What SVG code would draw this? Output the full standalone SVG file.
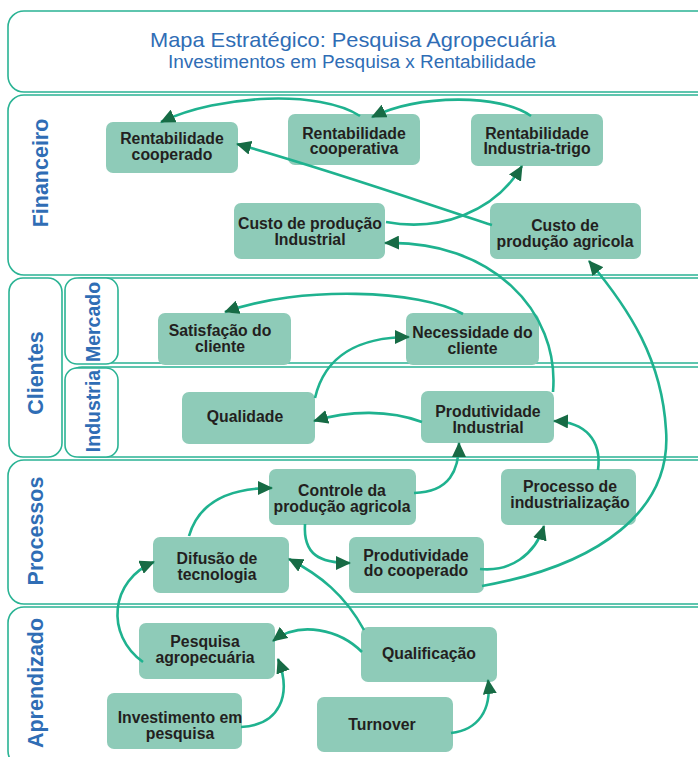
<svg xmlns="http://www.w3.org/2000/svg" width="698" height="757" viewBox="0 0 698 757">
<defs>
<marker id="ah" markerUnits="userSpaceOnUse" markerWidth="16" markerHeight="14" viewBox="0 0 16 14" refX="14" refY="7" orient="auto">
<path d="M0,0 L15,7 L0,14 Z" fill="#176b45"/>
</marker>
</defs>
<style>
.lane{fill:#fff;stroke:#2ab394;stroke-width:1.6}
.lbl{font-family:"Liberation Sans",Arial,sans-serif;font-weight:bold;fill:#2f6db5;text-anchor:middle}
.node rect{fill:#8ecbb8;stroke:none}
.node text{font-family:"Liberation Sans",Arial,sans-serif;font-weight:bold;font-size:15.8px;fill:#231f20;text-anchor:middle}
.edges path{fill:none;stroke:#1fb28f;stroke-width:2.6;marker-end:url(#ah)}
.title{font-family:"Liberation Sans",Arial,sans-serif;fill:#2f6db5;text-anchor:middle}
</style>
<g id="lanes">
<rect class="lane" x="8" y="11" width="720" height="81" rx="16"/>
<rect class="lane" x="8" y="95" width="720" height="180" rx="16"/>
<rect class="lane" x="68" y="278" width="660" height="85" rx="14"/>
<rect class="lane" x="68" y="367" width="660" height="90" rx="14"/>
<rect class="lane" x="9" y="278" width="53" height="179" rx="14"/>
<rect class="lane" x="65" y="278" width="53" height="86" rx="12"/>
<rect class="lane" x="65" y="368" width="53" height="89" rx="12"/>
<rect class="lane" x="8" y="460" width="720" height="144" rx="16"/>
<rect class="lane" x="8" y="607" width="720" height="160" rx="16"/>
<text class="title" x="353" y="47" font-size="21" textLength="406" lengthAdjust="spacingAndGlyphs">Mapa Estratégico: Pesquisa Agropecuária</text>
<text class="title" x="352" y="68" font-size="17.5" textLength="368" lengthAdjust="spacingAndGlyphs">Investimentos em Pesquisa x Rentabilidade</text>
<text class="lbl" font-size="21.5" transform="translate(48,173) rotate(-90)">Financeiro</text>
<text class="lbl" font-size="21.5" transform="translate(43,373) rotate(-90)">Clientes</text>
<text class="lbl" font-size="19.5" transform="translate(100,322) rotate(-90)">Mercado</text>
<text class="lbl" font-size="19.5" transform="translate(100,411) rotate(-90)">Industria</text>
<text class="lbl" font-size="21.5" transform="translate(43,531) rotate(-90)">Processos</text>
<text class="lbl" font-size="21.5" transform="translate(43,683) rotate(-90)">Aprendizado</text>
</g>
<g id="n-rent-coop" class="node"><rect x="106" y="122" width="132" height="51" rx="7"/><text x="172" y="144">Rentabilidade</text><text x="172" y="159.5">cooperado</text></g>
<g id="n-rent-cooperativa" class="node"><rect x="288" y="114" width="132" height="51" rx="7"/><text x="354" y="138.5">Rentabilidade</text><text x="354" y="154">cooperativa</text></g>
<g id="n-rent-ind" class="node"><rect x="471" y="114" width="132" height="52" rx="7"/><text x="537" y="138.5">Rentabilidade</text><text x="537" y="154">Industria-trigo</text></g>
<g id="n-custo-ind" class="node"><rect x="234" y="203" width="151" height="56" rx="7"/><text x="310" y="229">Custo de produção</text><text x="310" y="244.5">Industrial</text></g>
<g id="n-custo-agr" class="node"><rect x="490" y="203" width="151" height="56" rx="7"/><text x="565" y="231">Custo de</text><text x="565" y="247">produção agricola</text></g>
<g id="n-satisf" class="node"><rect x="158" y="313" width="133" height="52" rx="7"/><text x="220" y="336">Satisfação do</text><text x="220" y="351.5">cliente</text></g>
<g id="n-necess" class="node"><rect x="406" y="313" width="133" height="52" rx="7"/><text x="472.5" y="338">Necessidade do</text><text x="472.5" y="353.5">cliente</text></g>
<g id="n-qualidade" class="node"><rect x="182" y="392" width="133" height="52" rx="7"/><text x="245" y="422">Qualidade</text></g>
<g id="n-prod-ind" class="node"><rect x="421" y="391" width="133" height="52" rx="7"/><text x="488" y="417">Produtividade</text><text x="488" y="432.5">Industrial</text></g>
<g id="n-controle" class="node"><rect x="269" y="469" width="147" height="56" rx="7"/><text x="342" y="496">Controle da</text><text x="342" y="511.5">produção agricola</text></g>
<g id="n-processo" class="node"><rect x="501" y="469" width="135" height="56" rx="7"/><text x="570" y="492">Processo de</text><text x="570" y="507.5">industrialização</text></g>
<g id="n-difusao" class="node"><rect x="153" y="537" width="136" height="56" rx="7"/><text x="217" y="564">Difusão de</text><text x="217" y="579.5">tecnologia</text></g>
<g id="n-prod-coop" class="node"><rect x="349" y="537" width="135" height="56" rx="7"/><text x="416" y="560.5">Produtividade</text><text x="416" y="576">do cooperado</text></g>
<g id="n-pesquisa" class="node"><rect x="139" y="623" width="136" height="56" rx="7"/><text x="205" y="647">Pesquisa</text><text x="205" y="662.5">agropecuária</text></g>
<g id="n-qualif" class="node"><rect x="361" y="627" width="136" height="55" rx="7"/><text x="429" y="659">Qualificação</text></g>
<g id="n-invest" class="node"><rect x="107" y="693" width="135" height="56" rx="7"/><text x="180" y="723">Investimento em</text><text x="180" y="738.5">pesquisa</text></g>
<g id="n-turnover" class="node"><rect x="317" y="697" width="136" height="55" rx="7"/><text x="382" y="730">Turnover</text></g>
<g id="connectors" class="edges">
<path d="M360 116 C320 90,220 94,161 122"/>
<path d="M531 116 C500 94,420 94,372 117"/>
<path d="M492 225 C430 205,330 170,237 144"/>
<path d="M386 222 C440 232,495 212,522 166"/>
<path d="M553 392 C560 310,490 240,385 243"/>
<path d="M482 586 C600 565,672 510,666 430 C662 360,630 310,589 261"/>
<path d="M463 314 C420 290,300 285,225 312"/>
<path d="M315 398 C325 355,360 337,409 337"/>
<path d="M422 422 C390 410,350 410,314 421"/>
<path d="M414 493 C450 492,459 470,459 443"/>
<path d="M598 470 C602 440,585 422,554 421"/>
<path d="M480 569 C510 572,535 555,544 526"/>
<path d="M305 524 C303 555,320 563,350 563"/>
<path d="M189 536 C198 505,225 488,272 488"/>
<path d="M364 630 C345 595,320 575,289 559"/>
<path d="M143 662 C105 635,110 580,154 562"/>
<path d="M362 652 C340 630,300 620,273 641"/>
<path d="M241 727 C280 725,292 695,278 659"/>
<path d="M451 733 C478 730,492 710,488 680"/>
</g>
</svg>
